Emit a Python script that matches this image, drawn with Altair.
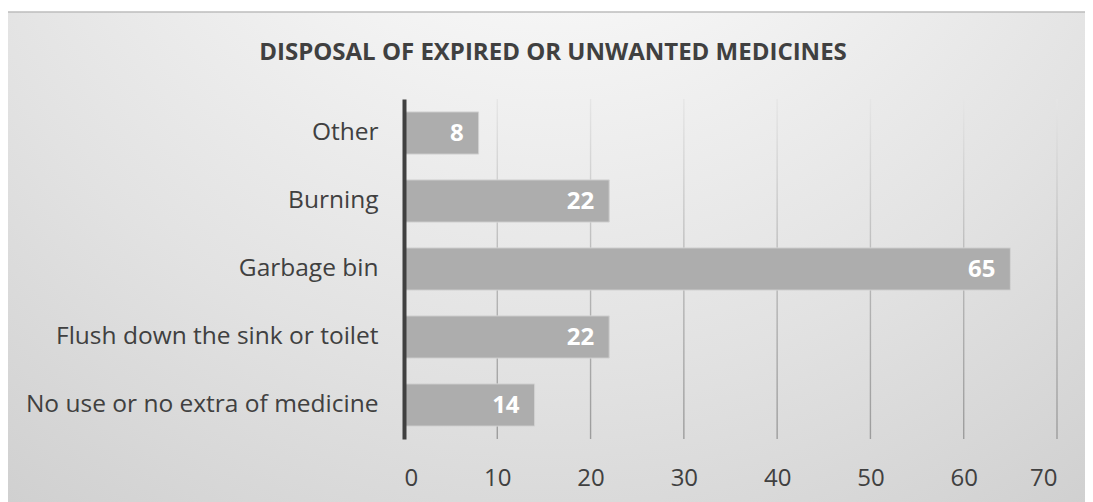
import altair as alt
import pandas as pd

categories = ["Other", "Burning", "Garbage bin", "Flush down the sink or toilet", "No use or no extra of medicine"]
values = [8, 22, 65, 22, 14]
tick_values = [10, 20, 30, 40, 50, 60, 70]
title_text = "DISPOSAL OF EXPIRED OR UNWANTED MEDICINES"

W, H = 653, 340
PAD = {"left": 396, "top": 91, "right": 28, "bottom": 63}
FONT = "Open Sans"

df = pd.DataFrame({"cat": categories, "val": values})
ticks_df = pd.DataFrame({"t": tick_values})

x_scale = alt.Scale(domain=[0, 70], nice=False, zero=True)
y_scale = alt.Scale(domain=categories, paddingInner=0.38, paddingOuter=0.19)

bg = alt.Chart(alt.Data(values=[{}])).mark_rect(
    fill=alt.Gradient(
        gradient="radial",
        x1=0.5, y1=0.0, r1=0.0,
        x2=0.5, y2=0.0, r2=1.0,
        stops=[
            alt.GradientStop(color="#ffffff", offset=0.0),
            alt.GradientStop(color="#f6f6f6", offset=0.25),
            alt.GradientStop(color="#e2e2e2", offset=0.6),
            alt.GradientStop(color="#c8c8c8", offset=1.0),
        ],
    )
).encode(
    x=alt.value(-PAD["left"]), x2=alt.value(W + PAD["right"] + 10),
    y=alt.value(-87), y2=alt.value(H + PAD["bottom"] + 10),
)

top_border = alt.Chart(alt.Data(values=[{}])).mark_rule(color="#bdbdbd", strokeWidth=1.5).encode(
    x=alt.value(-PAD["left"]), x2=alt.value(W + PAD["right"] + 10), y=alt.value(-87)
)

grid = alt.Chart(ticks_df).mark_tick(
    orient="vertical", thickness=1.4, size=H,
    fill=alt.Gradient(
        gradient="linear", x1=0, y1=0, x2=0, y2=1,
        stops=[
            alt.GradientStop(color="#e6e6e6", offset=0.0),
            alt.GradientStop(color="#b8b8b8", offset=0.5),
            alt.GradientStop(color="#9c9c9c", offset=1.0),
        ],
    ),
    opacity=1,
).encode(
    x=alt.X("t:Q", scale=x_scale),
    y=alt.value(H / 2),
)

x_axis = alt.Axis(values=[0] + tick_values, grid=False, domain=False, ticks=False,
                  labelFont=FONT, labelFontSize=24, labelColor="#404040",
                  labelPadding=27, title=None, zindex=1)
y_axis = alt.Axis(grid=False, domain=True, domainColor="#404040", domainWidth=4,
                  ticks=False, labelFont=FONT, labelFontSize=24.5, labelColor="#404040",
                  labelPadding=26, labelLimit=0, title=None, zindex=1)

bars = alt.Chart(df).mark_bar(
    fill="#adadad", stroke="#d2d2d2", strokeWidth=1
).encode(
    x=alt.X("val:Q", scale=x_scale, axis=x_axis),
    y=alt.Y("cat:N", scale=y_scale, sort=None, axis=y_axis),
)

labels = alt.Chart(df).mark_text(
    align="right", baseline="middle", dx=-15, dy=1,
    font=FONT, fontSize=24, fontWeight="bold", color="white",
).encode(
    x=alt.X("val:Q", scale=x_scale),
    y=alt.Y("cat:N", scale=y_scale, sort=None),
    text=alt.Text("val:Q"),
)

title = alt.Chart(alt.Data(values=[{"t": title_text}])).mark_text(
    align="center", baseline="alphabetic",
    font=FONT, fontSize=24, fontWeight="bold", color="#404040",
).encode(
    x=alt.value(553 - 404), y=alt.value(60 - 99), text="t:N",
)

chart = alt.layer(bg, top_border, grid, bars, labels, title).resolve_axis(
    x="shared", y="shared"
).properties(
    width=W, height=H,
    autosize=alt.AutoSizeParams(type="none"),
    padding=PAD,
).configure_view(stroke=None)

chart.save("out.html", embed_options={"renderer": "svg", "actions": False})
